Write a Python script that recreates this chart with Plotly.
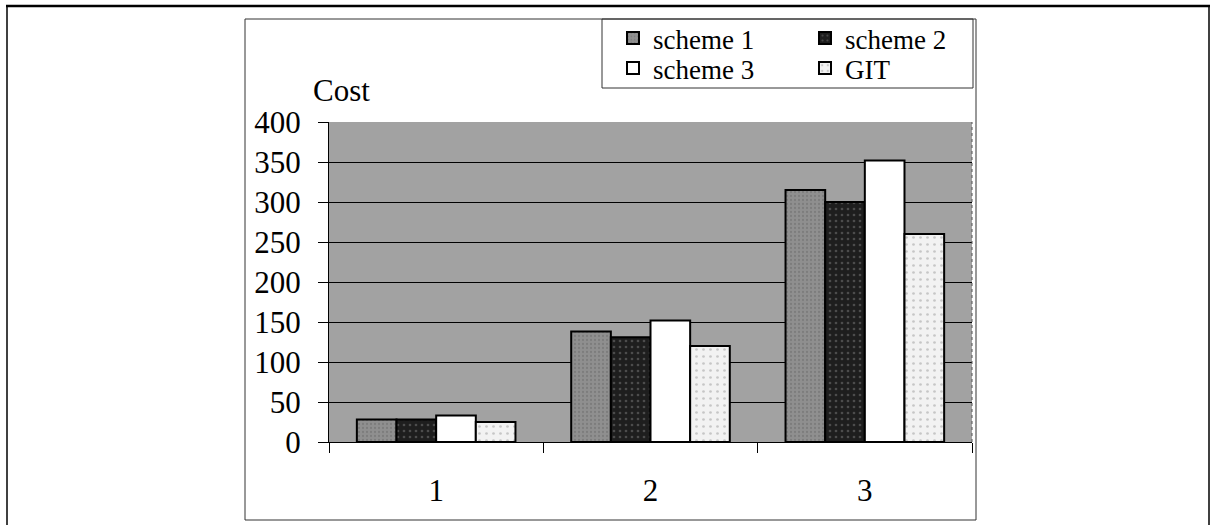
import plotly.graph_objects as go

categories = ["1", "2", "3"]
scheme1 = [28, 138, 315]
scheme2 = [28, 131, 300]
scheme3 = [33, 152, 352]
git = [25, 120, 260]
series_names = ["scheme 1", "scheme 2", "scheme 3", "GIT"]
y_ticks = [0, 50, 100, 150, 200, 250, 300, 350, 400]

FIG_W, FIG_H = 1216, 525
L, R, T, B = 329, 972, 122, 442
PW, PH = R - L, B - T


def px(x):
    return (x - L) / PW


def py(y):
    return (B - y) / PH


FONT = "Liberation Serif, Times New Roman, serif"

fig = go.Figure()
styles = [
    dict(color="#8f8f8f", pattern=dict(shape=".", fgcolor="#6a6a6a", size=4, solidity=0.25)),
    dict(color="#1e1e1e", pattern=dict(shape=".", fgcolor="#7a7a7a", size=6, solidity=0.15)),
    dict(color="#ffffff"),
    dict(color="#f2f2f2", pattern=dict(shape=".", fgcolor="#9a9a9a", size=7, solidity=0.12)),
]
legend_ids = ["legend", "legend", "legend2", "legend2"]
for name, vals, st, lg in zip(series_names, [scheme1, scheme2, scheme3, git], styles, legend_ids):
    fig.add_trace(go.Bar(
        x=categories, y=vals, name=name, legend=lg,
        marker=dict(line=dict(color="black", width=2), **st),
    ))

legend_common = dict(
    orientation="h", xanchor="left", yanchor="top",
    bgcolor="rgba(0,0,0,0)", borderwidth=0,
    font=dict(family=FONT, size=27, color="black"),
    itemwidth=30, entrywidth=147, entrywidthmode="pixels",
)

fig.update_layout(
    width=FIG_W, height=FIG_H,
    margin=dict(l=L, r=FIG_W - R, t=T, b=FIG_H - B, pad=0),
    paper_bgcolor="white",
    plot_bgcolor="#a2a2a2",
    barmode="group", bargap=0.26, bargroupgap=0,
    font=dict(family=FONT, size=31, color="black"),
    legend=dict(x=px(613), y=py(14), **legend_common),
    legend2=dict(x=px(613), y=py(44), **legend_common),
    showlegend=True,
)

fig.update_xaxes(
    type="category", categoryorder="array", categoryarray=categories,
    showgrid=False, showline=True, linecolor="black", linewidth=1,
    ticks="outside", tickson="boundaries", ticklen=10, tickcolor="black",
    ticklabelstandoff=21,
    tickfont=dict(family=FONT, size=31, color="black"),
)
fig.update_yaxes(
    range=[0, 400], tickvals=y_ticks, ticktext=[str(v) for v in y_ticks],
    showgrid=True, gridcolor="black", gridwidth=1,
    showline=True, linecolor="black", linewidth=1,
    ticks="outside", ticklen=10, tickcolor="black",
    ticklabelstandoff=11, zeroline=False,
    tickfont=dict(family=FONT, size=31, color="black"),
)

fig.add_annotation(
    text="Cost", xref="paper", yref="paper", x=px(311), y=py(91),
    xanchor="left", yanchor="middle", showarrow=False,
    font=dict(family=FONT, size=31, color="black"),
)

shapes = [
    # outer frame
    dict(type="line", xref="paper", yref="paper", x0=px(6), x1=px(1210), y0=py(6), y1=py(6),
         line=dict(color="black", width=2.5)),
    dict(type="line", xref="paper", yref="paper", x0=px(7), x1=px(7), y0=py(6), y1=py(530),
         line=dict(color="black", width=1.5)),
    dict(type="line", xref="paper", yref="paper", x0=px(1209), x1=px(1209), y0=py(6), y1=py(530),
         line=dict(color="black", width=1.5)),
    # chart box
    dict(type="rect", xref="paper", yref="paper", x0=px(245), x1=px(976), y0=py(19), y1=py(520),
         line=dict(color="#333333", width=1)),
    # legend box
    dict(type="rect", xref="paper", yref="paper", x0=px(602), x1=px(973), y0=py(19), y1=py(88),
         line=dict(color="#333333", width=1), fillcolor="white", layer="below"),
    # faint right edge of the plot area
    dict(type="line", xref="paper", yref="paper", x0=1, x1=1, y0=0, y1=1,
         line=dict(color="#555555", width=1, dash="dot")),
]
fig.update_layout(shapes=shapes)

fig.write_html("out.html")
